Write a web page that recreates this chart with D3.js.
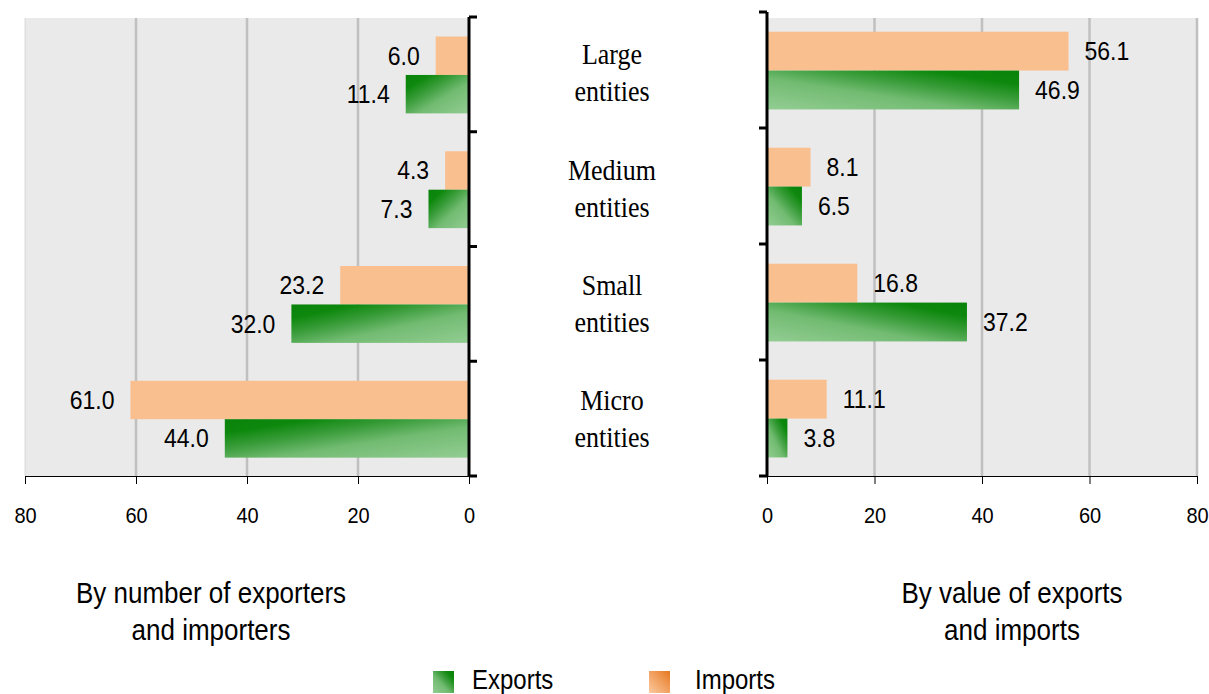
<!DOCTYPE html>
<html>
<head>
<meta charset="utf-8">
<script src="https://cdn.jsdelivr.net/npm/d3@7"></script>
<style>
  html, body { margin: 0; padding: 0; background: #fff; }
  svg { display: block; }
</style>
</head>
<body>
<svg id="chart" width="1209" height="694"></svg>
<script>
// ---- data ----
const categories = ["Large entities", "Medium entities", "Small entities", "Micro entities"];
const categoryLines = [["Large", "entities"], ["Medium", "entities"], ["Small", "entities"], ["Micro", "entities"]];
const numberExports = [11.4, 7.3, 32.0, 44.0];
const numberImports = [6.0, 4.3, 23.2, 61.0];
const valueExports = [46.9, 6.5, 37.2, 3.8];
const valueImports = [56.1, 8.1, 16.8, 11.1];
const tickValues = [0, 20, 40, 60, 80];
const leftTitle = ["By number of exporters", "and importers"];
const rightTitle = ["By value of exports", "and imports"];
const legendItems = ["Exports", "Imports"];

// ---- setup ----
const svg = d3.select("#chart");
const defs = svg.append("defs");
const SANS = "'Liberation Sans', Arial, sans-serif";
const SERIF = "'Liberation Serif', 'Times New Roman', serif";
const IMPORT_COLOR = "#f9bf8f";
const BG = "#eaeaea";
const GRID = "#c0c0c0";
const STRETCH = 1.12;

function greenGrad(id, x1, y1, x2, y2) {
  const g = defs.append("linearGradient").attr("id", id)
    .attr("x1", x1).attr("y1", y1).attr("x2", x2).attr("y2", y2);
  g.append("stop").attr("offset", "0").attr("stop-color", "#93cd93");
  g.append("stop").attr("offset", "0.4").attr("stop-color", "#72bb72");
  g.append("stop").attr("offset", "0.62").attr("stop-color", "#3a9d3a");
  g.append("stop").attr("offset", "0.82").attr("stop-color", "#0d880d");
  g.append("stop").attr("offset", "1").attr("stop-color", "#0a820a");
}
greenGrad("gLeft", 1, 1, 0, 0);
greenGrad("gRight", 0, 1, 1, 0);
greenGrad("gLegend", 0, 1, 1, 0);
const og = defs.append("linearGradient").attr("id", "oLegend")
  .attr("x1", 0).attr("y1", 1).attr("x2", 1).attr("y2", 0);
og.append("stop").attr("offset", "0").attr("stop-color", "#fac9a0");
og.append("stop").attr("offset", "0.6").attr("stop-color", "#f09a55");
og.append("stop").attr("offset", "1").attr("stop-color", "#e5771f");

// text with slight vertical stretch like the reference rendering
function sText(parent, x, y, str, opts) {
  const g = parent.append("g").attr("transform", `translate(${x},${y}) scale(1,${STRETCH})`);
  return g.append("text").attr("x", 0).attr("y", 0)
    .attr("text-anchor", opts.anchor || "start")
    .attr("font-family", opts.family || SANS)
    .attr("font-size", opts.size).attr("fill", "#000").text(str);
}

const bgTop = 18, bottom = 476;

function panel(opts) {
  const { x, y, exportsData, importsData, side, grad } = opts;
  const g = svg.append("g");
  const x0 = x(0), x80 = x(80);
  const xmin = Math.min(x0, x80), xmax = Math.max(x0, x80);

  g.append("rect").attr("x", xmin).attr("y", bgTop)
    .attr("width", xmax - xmin).attr("height", bottom - bgTop).attr("fill", BG);

  g.selectAll(".grid").data(tickValues.filter(d => d > 0)).enter().append("line")
    .attr("x1", d => x(d)).attr("x2", d => x(d))
    .attr("y1", bgTop).attr("y2", bottom)
    .attr("stroke", GRID).attr("stroke-width", d => (side === "left" && d === 80) ? 1 : 2.5)
    .attr("opacity", d => (side === "left" && d === 80) ? 0.5 : 1);

  const bw = y.bandwidth();
  const barH = bw * 0.335;

  g.selectAll(".imp").data(importsData).enter().append("rect")
    .attr("x", d => Math.min(x(0), x(d)))
    .attr("width", d => Math.abs(x(d) - x(0)))
    .attr("y", (d, i) => y(categories[i]) + bw * 0.17)
    .attr("height", barH)
    .attr("fill", IMPORT_COLOR);

  g.selectAll(".exp").data(exportsData).enter().append("rect")
    .attr("x", d => Math.min(x(0), x(d)))
    .attr("width", d => Math.abs(x(d) - x(0)))
    .attr("y", (d, i) => y(categories[i]) + bw * 0.17 + barH)
    .attr("height", barH)
    .attr("fill", `url(#${grad})`);

  const dir = side === "left" ? -1 : 1;
  const anchor = side === "left" ? "end" : "start";
  const addLabels = (data, off) => {
    data.forEach((d, i) => {
      const cy = y(categories[i]) + bw * 0.17 + off + barH / 2;
      sText(g, x(d) + dir * 16, cy + 9, d.toFixed(1), { anchor, size: 23 });
    });
  };
  addLabels(importsData, 0);
  addLabels(exportsData, barH);

  // bottom axis
  const axis = d3.axisBottom(x).tickValues(tickValues).tickSize(8).tickPadding(20)
    .tickFormat(d3.format("d"));
  const ax = svg.append("g").attr("transform", `translate(0,${bottom})`).call(axis);
  ax.select(".domain").attr("stroke", "#000").attr("stroke-width", 1)
    .attr("d", `M${xmin},0.5H${xmax}`);
  ax.selectAll(".tick line").attr("stroke", "#000").attr("stroke-width", 1);
  ax.selectAll(".tick text").attr("font-family", SANS).attr("font-size", 20).attr("fill", "#000")
    .attr("transform", `scale(1,${STRETCH})`);

  // vertical category axis
  const vx = x0;
  const [r0, r1] = y.range();
  g.append("line").attr("x1", vx).attr("x2", vx).attr("y1", r0).attr("y2", r1 + 1)
    .attr("stroke", "#000").attr("stroke-width", 3);
  const bounds = categories.map(c => y(c)).concat([r1]);
  g.selectAll(".vt").data(bounds).enter().append("line")
    .attr("x1", vx).attr("x2", vx - dir * 8)
    .attr("y1", d => d).attr("y2", d => d)
    .attr("stroke", "#000").attr("stroke-width", 3);
}

const xLeft = d3.scaleLinear().domain([0, 80]).range([469, 25]);
const yLeft = d3.scaleBand().domain(categories).range([17, 476]).padding(0);
const xRight = d3.scaleLinear().domain([0, 80]).range([767, 1197]);
const yRight = d3.scaleBand().domain(categories).range([12, 476]).padding(0);

panel({ x: xLeft, y: yLeft, exportsData: numberExports, importsData: numberImports, side: "left", grad: "gLeft" });
panel({ x: xRight, y: yRight, exportsData: valueExports, importsData: valueImports, side: "right", grad: "gRight" });

// category labels (centre)
const catG = svg.append("g");
categories.forEach((c, i) => {
  const cy = (yLeft(c) + yLeft.bandwidth() / 2 + yRight(c) + yRight.bandwidth() / 2) / 2;
  categoryLines[i].forEach((ln, j) => {
    sText(catG, 612, cy - 8 + j * 37, ln, { anchor: "middle", family: SERIF, size: 26 });
  });
});

// panel titles
function title(lines, cx) {
  lines.forEach((ln, j) => sText(svg, cx, 603 + j * 37, ln, { anchor: "middle", size: 26 }));
}
title(leftTitle, 211);
title(rightTitle, 1012);

// legend
const legend = svg.append("g");
const legendPos = [{ sx: 433, tx: 472, fill: "url(#gLegend)" }, { sx: 649, tx: 695, fill: "url(#oLegend)" }];
legendItems.forEach((name, i) => {
  legend.append("rect").attr("x", legendPos[i].sx).attr("y", 671).attr("width", 21).attr("height", 22)
    .attr("fill", legendPos[i].fill);
  sText(legend, legendPos[i].tx, 689, name, { size: 24 });
});
</script>
</body>
</html>
